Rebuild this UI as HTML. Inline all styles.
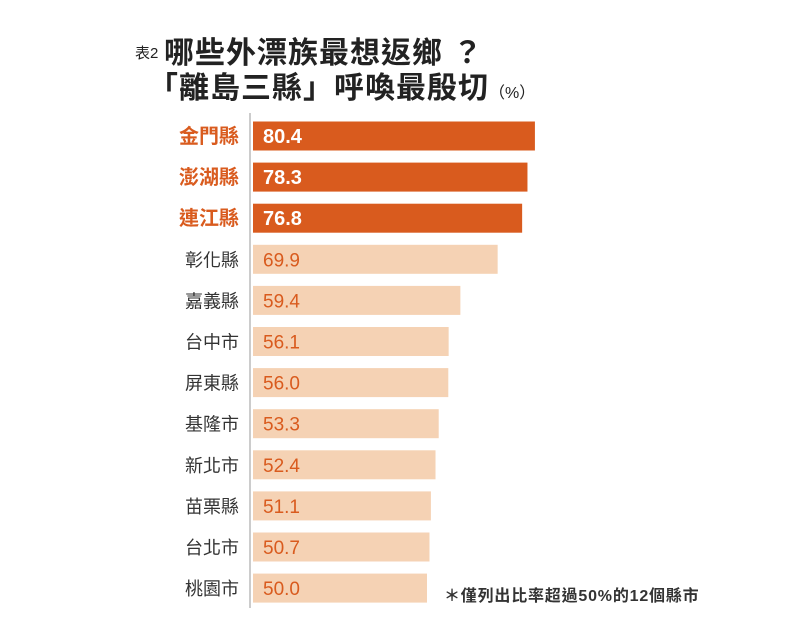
<!DOCTYPE html>
<html><head><meta charset="utf-8">
<style>
body{margin:0;background:#fff;width:792px;height:638px;overflow:hidden;font-family:"Liberation Sans","Noto Sans CJK TC",sans-serif;}
.t{position:absolute;white-space:nowrap;color:#222;}
</style></head>
<body>
<div class="t" style="left:135px;top:42px;font-size:15px;">表2</div>
<div class="t" style="left:164px;top:28px;font-size:30px;font-weight:bold;letter-spacing:1px;">哪些外漂族最想返鄉 ？</div>
<div class="t" style="left:148px;top:63px;font-size:30px;font-weight:bold;letter-spacing:1px;">「離島三縣」呼喚最殷切<span style="font-size:16px;font-weight:normal;letter-spacing:0;">（%）</span></div>
<svg id="c" width="792" height="638" style="position:absolute;left:0;top:0"></svg>
<div class="t" style="left:444px;top:582px;font-size:16px;font-weight:bold;color:#333;letter-spacing:0.8px;">＊僅列出比率超過50%的12個縣市</div>
<script>
const categories=["金門縣","澎湖縣","連江縣","彰化縣","嘉義縣","台中市","屏東縣","基隆市","新北市","苗栗縣","台北市","桃園市"];
const values=[80.4,78.3,76.8,69.9,59.4,56.1,56.0,53.3,52.4,51.1,50.7,50.0];
const highlight=[true,true,true,false,false,false,false,false,false,false,false,false];
const ns="http://www.w3.org/2000/svg";
const svg=document.getElementById('c');
const x=v=>249.5+v*3.55;
const y=i=>136+i*41.1;
function mk(t,a){const e=document.createElementNS(ns,t);for(const k in a)e.setAttribute(k,a[k]);svg.appendChild(e);return e;}
const ax=mk('line',{x1:250,y1:113,x2:250,y2:608,stroke:'#999','stroke-width':1});


values.forEach((v,i)=>{
  const h=highlight[i];
  const r=mk('rect',{x:253,y:y(i)-14.5,width:x(v)-253,height:29,fill:h?'#d95b1e':'#f5d2b4'});
  
  
  const vt=mk('text',{x:263,y:y(i)+7,'font-size':h?20:19,'font-weight':h?'bold':'normal',fill:h?'#fff':'#d95b1e','font-family':'Liberation Sans, sans-serif'});
  vt.textContent=v.toFixed(1);
  
  
  const ct=mk('text',{x:239,y:y(i)+7,'text-anchor':'end','font-size':h?20:18,'font-weight':h?'bold':'normal',fill:h?'#d95b1e':'#333','font-family':'Liberation Sans, Noto Sans CJK TC, sans-serif'});
  ct.textContent=categories[i];
  
  
});
</script>
</body></html>
